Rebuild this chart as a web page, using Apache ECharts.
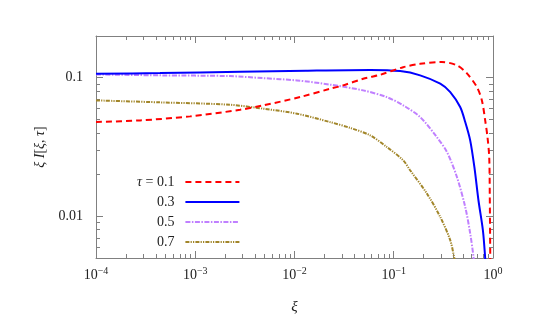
<!DOCTYPE html>
<html><head><meta charset="utf-8">
<script src="https://cdn.jsdelivr.net/npm/echarts@6/dist/echarts.min.js"></script>
<style>html,body{margin:0;padding:0;background:#fff}#c{width:539px;height:335px}</style>
</head><body><div id="c"></div>
<script>
// ---- data ----
const tauNames = ['0.1', '0.3', '0.5', '0.7'];
const xi01 = [1e-4, 2.78e-4, 8.87e-4, 0.00283, 0.00482, 0.01137, 0.0229, 0.0309, 0.0492, 0.0578, 0.073, 0.1245, 0.1845, 0.305, 0.433, 0.546, 0.689, 0.773, 0.834, 0.88, 0.916, 0.928, 0.94];
const val01 = [0.0479, 0.0492, 0.0526, 0.0587, 0.0631, 0.0725, 0.0833, 0.088, 0.0984, 0.101, 0.105, 0.119, 0.126, 0.130, 0.1227, 0.1074, 0.0855, 0.0686, 0.0492, 0.0373, 0.0268, 0.014, 0.004];
const xi03 = [1e-4, 4.41e-4, 0.00283, 0.0130, 0.0578, 0.116, 0.1845, 0.294, 0.371, 0.467, 0.525, 0.589, 0.650, 0.714, 0.791, 0.834, 0.85];
const val03 = [0.1069, 0.1080, 0.1105, 0.1125, 0.1138, 0.1116, 0.104, 0.0905, 0.0787, 0.0614, 0.0479, 0.0353, 0.0225, 0.0130, 0.00793, 0.005, 0.0038];
const xi05 = [1e-4, 4.41e-4, 0.00224, 0.00482, 0.0106, 0.0229, 0.0492, 0.0853, 0.1245, 0.1845, 0.2716, 0.345, 0.433, 0.525, 0.589, 0.636, 0.65];
const val05 = [0.1056, 0.104, 0.1027, 0.0993, 0.0956, 0.0891, 0.081, 0.0724, 0.0632, 0.052, 0.0373, 0.0289, 0.0192, 0.01167, 0.00753, 0.00509, 0.0042];
const xi07 = [1e-4, 4.41e-4, 0.00224, 0.00482, 0.0106, 0.0229, 0.03635, 0.0578, 0.0852, 0.1244, 0.1462, 0.2157, 0.294, 0.371, 0.407, 0.42];
const val07 = [0.0686, 0.0664, 0.0638, 0.0598, 0.0550, 0.0478, 0.04346, 0.03837, 0.0316, 0.02535, 0.0215, 0.0146, 0.00989, 0.00671, 0.005, 0.0043];
const xMajor = [1e-4, 1e-3, 1e-2, 1e-1, 1];
const xMinor = [2e-4,3e-4,4e-4,5e-4,6e-4,7e-4,8e-4,9e-4, 2e-3,3e-3,4e-3,5e-3,6e-3,7e-3,8e-3,9e-3, 2e-2,3e-2,4e-2,5e-2,6e-2,7e-2,8e-2,9e-2, 0.2,0.3,0.4,0.5,0.6,0.7,0.8,0.9];
const yMajor = [0.01, 0.1];
const yMinor = [0.006,0.007,0.008,0.009, 0.02,0.03,0.04,0.05,0.06,0.07,0.08,0.09];
const xLabels = {'0.0001':'10{s|−4}','0.001':'10{s|−3}','0.01':'10{s|−2}','0.1':'10{s|−1}','1':'10{s|0}'};
const yLabels = {'0.01':'0.01','0.1':'0.1'};

const colors = ['#ff0000', '#0000ff', '#c080ff', '#a2862a'];
const dashes = [[6,4], 'solid', [5,1.5,1.5,1.5], [4,1.2,1.2,1.2,1.2,1.2]];
const FONT = 'Liberation Serif';
const AX = '#808080';

const zip = (a, b) => a.map((x, i) => [x, b[i]]);
const seriesData = [zip(xi01, val01), zip(xi03, val03), zip(xi05, val05), zip(xi07, val07)];

function xAxisDef(pos, major, showLabel) {
  return {
    type: 'log', logBase: 10, min: 1e-4, max: 1, position: pos, gridIndex: 0,
    axisLine: {show: major, lineStyle: {color: AX, width: 1}},
    axisTick: {show: true, inside: true, length: major ? 7 : 4, customValues: major ? xMajor : xMinor, lineStyle: {color: AX, width: 1}},
    axisLabel: {show: showLabel, customValues: xMajor, margin: 8, fontFamily: FONT, fontSize: 14, color: '#222',
      formatter: v => xLabels[String(+v.toPrecision(6))] || '',
      rich: {s: {fontSize: 10, fontFamily: FONT, color: '#222', verticalAlign: 'top', padding: [0,0,8,0]}}},
    splitLine: {show: false}, minorTick: {show: false}
  };
}
function yAxisDef(pos, major, showLabel) {
  return {
    type: 'log', logBase: 10, min: 0.005, max: 0.2, position: pos, gridIndex: 0,
    axisLine: {show: major, lineStyle: {color: AX, width: 1}},
    axisTick: {show: true, inside: true, length: major ? 7 : 4, customValues: major ? yMajor : yMinor, lineStyle: {color: AX, width: 1}},
    axisLabel: {show: showLabel, customValues: yMajor, margin: 13, fontFamily: FONT, fontSize: 14, color: '#222',
      formatter: v => yLabels[String(+v.toPrecision(6))] || ''},
    splitLine: {show: false}, minorTick: {show: false}
  };
}

const xAxes = [xAxisDef('bottom', true, true), xAxisDef('bottom', false, false), xAxisDef('top', true, false), xAxisDef('top', false, false)];
xAxes[0].name = 'ξ';
xAxes[0].nameLocation = 'middle';
xAxes[0].nameGap = 42;
xAxes[0].nameTextStyle = {fontFamily: FONT, fontStyle: 'italic', fontSize: 15, color: '#222'};
const yAxes = [yAxisDef('left', true, true), yAxisDef('left', false, false), yAxisDef('right', true, false), yAxisDef('right', false, false)];
yAxes[0].name = '{i|ξ I}[{i|ξ}, {i|τ}]';
yAxes[0].nameLocation = 'middle';
yAxes[0].nameGap = 46;
yAxes[0].nameTextStyle = {fontFamily: FONT, fontSize: 14, color: '#222', rich: {i: {fontFamily: FONT, fontStyle: 'italic', fontSize: 14, color: '#222'}}};

const chart = echarts.init(document.getElementById('c'), null, {renderer: 'canvas'});
chart.setOption({
  animation: false,
  backgroundColor: '#fff',
  grid: {left: 96, right: 46, top: 36, bottom: 77, containLabel: false},
  xAxis: xAxes,
  yAxis: yAxes,
  legend: {
    orient: 'vertical', align: 'right', left: 137, top: 175, padding: 0,
    itemWidth: 54, itemHeight: 10, itemGap: 6, selectedMode: false,
    data: tauNames,
    formatter: n => n === '0.1' ? '{i|τ} = 0.1' : n,
    textStyle: {fontFamily: FONT, fontSize: 14, color: '#222', padding: [0, 6, 0, 0],
      rich: {i: {fontFamily: FONT, fontStyle: 'italic', fontSize: 14, color: '#222'}}},
    itemStyle: {opacity: 0}
  },
  series: tauNames.map((n, i) => ({
    name: n, type: 'line', xAxisIndex: 0, yAxisIndex: 0,
    data: seriesData[i], showSymbol: false, symbol: 'none',
    smooth: 0.3, clip: true,
    lineStyle: {color: colors[i], width: 2, type: dashes[i]},
    itemStyle: {color: colors[i]}, z: 10 - i
  }))
});
</script></body></html>
